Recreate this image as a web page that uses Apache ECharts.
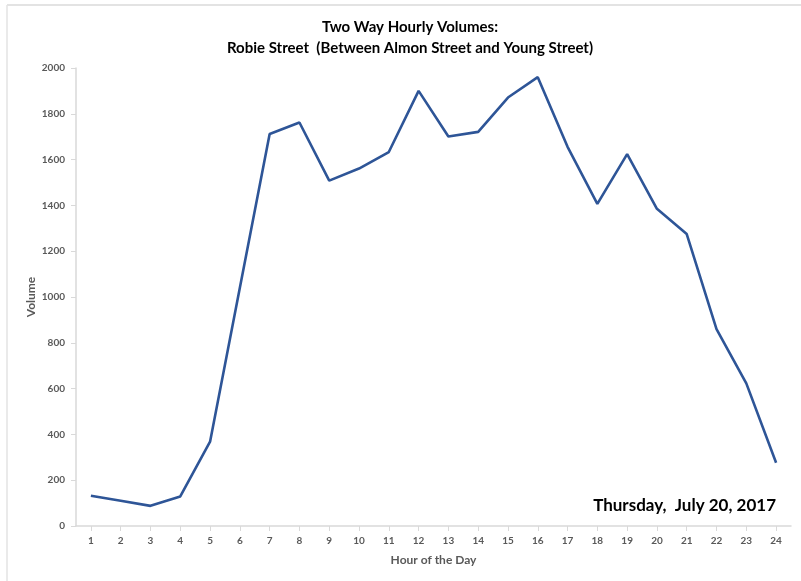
<!DOCTYPE html>
<html>
<head>
<meta charset="utf-8">
<script src="https://cdn.jsdelivr.net/npm/echarts@6/dist/echarts.min.js"></script>
<style>html,body{margin:0;padding:0;background:#fff;}#c{width:801px;height:581px;}</style>
</head>
<body>
<div id="c"></div>
<script>
var hours = ['1','2','3','4','5','6','7','8','9','10','11','12','13','14','15','16','17','18','19','20','21','22','23','24'];
var volumes = [132, 110, 88, 129, 368, 1040, 1712, 1762, 1508, 1561, 1633, 1900, 1701, 1721, 1871, 1960, 1656, 1407, 1624, 1385, 1275, 860, 623, 276];
var yTicks = [0, 200, 400, 600, 800, 1000, 1200, 1400, 1600, 1800, 2000];
var titleLines = ['Two Way Hourly Volumes:', 'Robie Street  (Between Almon Street and Young Street)'];
var dateNote = 'Thursday,  July 20, 2017';
var yName = 'Volume';

var FONT = 'Lato, "Open Sans", sans-serif';
var chart = echarts.init(document.getElementById('c'), null, {renderer: 'canvas'});
chart.setOption({
  backgroundColor: '#ffffff',
  animation: false,
  title: {
    text: titleLines.join('\n'),
    left: 405, top: 12, textAlign: 'center',
    textStyle: {fontFamily: FONT, fontWeight: 'bold', fontSize: 15, color: '#000', lineHeight: 21}
  },
  grid: {left: 76, right: 10, top: 68, bottom: 55, containLabel: false},
  xAxis: {
    type: 'category', data: hours, boundaryGap: true,
    name: 'Hour of the Day', nameLocation: 'middle', nameGap: 28,
    nameTextStyle: {fontFamily: FONT, fontWeight: 'bold', fontSize: 12, color: '#595959'},
    axisLine: {lineStyle: {color: '#d9d9d9', width: 1.5}},
    axisTick: {show: true, alignWithLabel: true, length: 5, lineStyle: {color: '#d9d9d9'}},
    axisLabel: {fontFamily: FONT, fontWeight: 'bold', fontSize: 10, color: '#595959', margin: 10, interval: 0},
    splitLine: {show: false}
  },
  yAxis: {
    type: 'value', min: yTicks[0], max: yTicks[yTicks.length - 1], interval: 200,
    axisLine: {show: true, lineStyle: {color: '#d9d9d9', width: 1.5}},
    axisTick: {show: true, length: 5, lineStyle: {color: '#d9d9d9'}},
    axisLabel: {fontFamily: FONT, fontWeight: 'bold', fontSize: 10, color: '#595959', margin: 11,
                formatter: function (v) { return String(v); }},
    splitLine: {show: false}
  },
  series: [{
    type: 'line', data: volumes, symbol: 'none',
    lineStyle: {color: '#2e5597', width: 2.6}
  }],
  graphic: [
    {type: 'line', shape: {x1: 7, y1: 5, x2: 801, y2: 5}, style: {stroke: '#e3e3e3', lineWidth: 2}},
    {type: 'line', shape: {x1: 7, y1: 5, x2: 7, y2: 581}, style: {stroke: '#e3e3e3', lineWidth: 1.5}},
    {type: 'text', x: 31, y: 297, rotation: Math.PI / 2,
     style: {text: yName, font: 'bold 12px ' + FONT, fill: '#595959', align: 'center', verticalAlign: 'middle'}},
    {type: 'text', right: 25, top: 497,
     style: {text: dateNote, font: 'bold 17px ' + FONT, fill: '#000'}}
  ]
});
</script>
</body>
</html>
